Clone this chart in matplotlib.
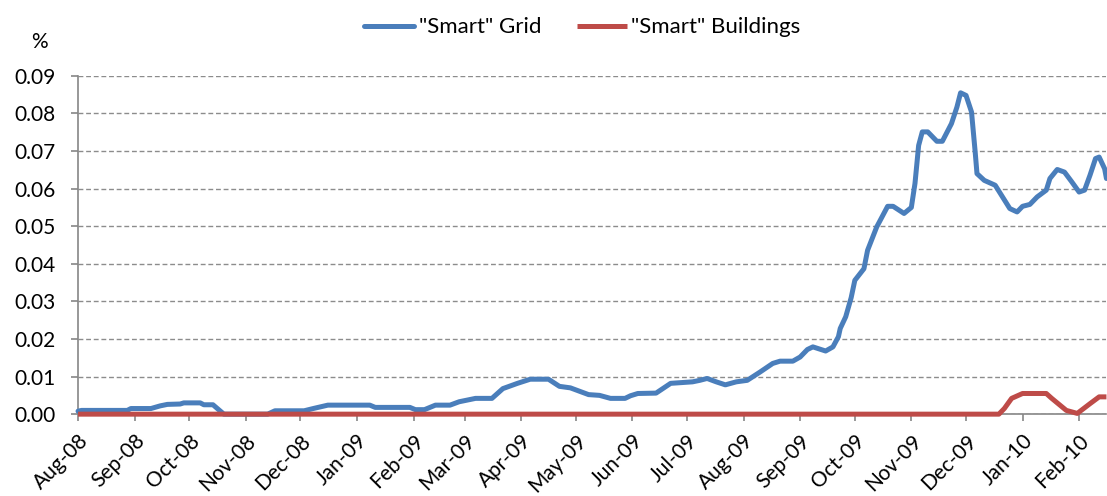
import matplotlib
matplotlib.use("Agg")
import matplotlib.pyplot as plt
import matplotlib.dates as mdates
import matplotlib.transforms as mtransforms
import numpy as np
import pandas as pd

plt.rcParams["font.family"] = ["Lato", "DejaVu Sans"]

# ─── DATA ───────────────────────────────────────────────────────────────────
GRID_DATES = [
    "2008-08-01", "2008-08-03", "2008-08-28", "2008-08-30", "2008-09-10", "2008-09-15",
    "2008-09-19", "2008-09-26", "2008-09-28", "2008-10-07", "2008-10-09", "2008-10-14",
    "2008-10-20", "2008-11-13", "2008-11-17", "2008-12-03", "2008-12-08", "2008-12-16",
    "2009-01-08", "2009-01-11", "2009-01-30", "2009-02-02", "2009-02-07", "2009-02-13",
    "2009-02-21", "2009-02-26", "2009-03-07", "2009-03-16", "2009-03-22", "2009-03-30",
    "2009-04-06", "2009-04-16", "2009-04-22", "2009-04-28", "2009-05-08", "2009-05-14",
    "2009-05-20", "2009-05-28", "2009-05-31", "2009-06-04", "2009-06-14", "2009-06-22",
    "2009-07-04", "2009-07-08", "2009-07-12", "2009-07-17", "2009-07-22", "2009-07-28",
    "2009-08-03", "2009-08-10", "2009-08-17", "2009-08-21", "2009-08-28", "2009-09-01",
    "2009-09-05", "2009-09-08", "2009-09-15", "2009-09-19", "2009-09-22", "2009-09-23",
    "2009-09-26", "2009-09-29", "2009-10-01", "2009-10-06", "2009-10-08", "2009-10-13",
    "2009-10-19", "2009-10-22", "2009-10-28", "2009-11-01", "2009-11-03", "2009-11-05",
    "2009-11-07", "2009-11-10", "2009-11-15", "2009-11-18", "2009-11-23", "2009-11-26",
    "2009-11-28", "2009-12-01", "2009-12-04", "2009-12-06", "2009-12-07", "2009-12-11",
    "2009-12-17", "2009-12-21", "2009-12-25", "2009-12-29", "2010-01-01", "2010-01-05",
    "2010-01-09", "2010-01-14", "2010-01-16", "2010-01-20", "2010-01-24", "2010-01-28",
    "2010-02-01", "2010-02-04", "2010-02-07", "2010-02-10", "2010-02-12", "2010-02-15",
    "2010-02-16",
]
GRID_VALUES = [
    0.0008, 0.0010, 0.0010, 0.0015, 0.0015, 0.0022,
    0.0026, 0.0027, 0.0030, 0.0030, 0.0025, 0.0025,
    0.0000, 0.0000, 0.0009, 0.0009, 0.0015, 0.0024,
    0.0024, 0.0018, 0.0018, 0.0012, 0.0012, 0.0024,
    0.0024, 0.0033, 0.0042, 0.0042, 0.0068, 0.0082,
    0.0093, 0.0093, 0.0074, 0.0070, 0.0052, 0.0050,
    0.0042, 0.0042, 0.0049, 0.0055, 0.0056, 0.0082,
    0.0086, 0.0090, 0.0095, 0.0086, 0.0078, 0.0086,
    0.0090, 0.0112, 0.0135, 0.0141, 0.0141, 0.0152,
    0.0172, 0.0179, 0.0168, 0.0179, 0.0206, 0.0228,
    0.0259, 0.0310, 0.0356, 0.0387, 0.0436, 0.0498,
    0.0553, 0.0553, 0.0534, 0.0550, 0.0614, 0.0715,
    0.0751, 0.0751, 0.0726, 0.0726, 0.0773, 0.0817,
    0.0855, 0.0848, 0.0804, 0.0698, 0.0640, 0.0622,
    0.0609, 0.0578, 0.0547, 0.0538, 0.0553, 0.0558,
    0.0578, 0.0596, 0.0627, 0.0651, 0.0644, 0.0618,
    0.0591, 0.0596, 0.0636, 0.0680, 0.0684, 0.0653,
    0.0627,
]

BUILD_DATES = [
    "2008-08-01", "2009-12-19", "2009-12-22", "2009-12-26", "2010-01-01", "2010-01-14",
    "2010-01-17", "2010-01-25", "2010-01-31", "2010-02-07", "2010-02-12", "2010-02-16",
]
BUILD_VALUES = [
    0.0000, 0.0000, 0.0015, 0.0042, 0.0055, 0.0055,
    0.0042, 0.0010, 0.0002, 0.0028, 0.0046, 0.0046,
]

SERIES_LABELS = ['"Smart" Grid', '"Smart" Buildings']
Y_TICKS = [0.00, 0.01, 0.02, 0.03, 0.04, 0.05, 0.06, 0.07, 0.08, 0.09]

BLUE = "#4A7EBB"
RED  = "#BE4B48"
AXIS_GRAY = "#868686"

# ─── PLOT ───────────────────────────────────────────────────────────────────
fig = plt.figure(figsize=(11.07, 4.96), dpi=100)
ax = fig.add_axes([0.0705, 0.165, 0.929, 0.682])

grid_x = pd.to_datetime(GRID_DATES)
build_x = pd.to_datetime(BUILD_DATES)

ax.plot(grid_x, GRID_VALUES, color=BLUE, lw=3.6, label=SERIES_LABELS[0],
        solid_capstyle="round", zorder=3, clip_on=False)
ax.plot(build_x, BUILD_VALUES, color=RED, lw=3.6, label=SERIES_LABELS[1],
        solid_capstyle="butt", zorder=4, clip_on=False)

ax.set_xlim(pd.Timestamp("2008-08-01"), pd.Timestamp("2010-02-16"))
ax.set_ylim(0, 0.09)
ax.set_yticks(Y_TICKS)
ax.yaxis.set_major_formatter(matplotlib.ticker.FormatStrFormatter("%.2f"))

ax.xaxis.set_major_locator(mdates.MonthLocator())
ax.xaxis.set_major_formatter(mdates.DateFormatter("%b-%y"))
shift = mtransforms.ScaledTranslation(4 / 100, 0, fig.dpi_scale_trans)
for lbl in ax.get_xticklabels():
    lbl.set_rotation(45)
    lbl.set_ha("right")
    lbl.set_rotation_mode("anchor")
    lbl.set_transform(lbl.get_transform() + shift)

ax.grid(axis="y", color="#8C8C8C", linestyle=(0, (3.5, 2)), lw=1.0)
ax.set_axisbelow(True)

for side in ("top", "right"):
    ax.spines[side].set_visible(False)
for side in ("left", "bottom"):
    ax.spines[side].set_color(AXIS_GRAY)
    ax.spines[side].set_linewidth(1.2)

ax.tick_params(axis="both", colors=AXIS_GRAY, labelcolor="black",
               labelsize=15, length=5, width=1.2)
ax.tick_params(axis="x", pad=7)
ax.tick_params(axis="y", pad=11)

fig.text(0.036, 0.915, "%", fontsize=15, ha="center", va="center")

handles, labels = ax.get_legend_handles_labels()
fig.legend(handles, labels, loc="center", ncol=2,
           bbox_to_anchor=(0.526, 0.945), frameon=False, fontsize=16,
           handlelength=2.25, handletextpad=0.2, columnspacing=1.6)

fig.savefig("out.png", dpi=100)
